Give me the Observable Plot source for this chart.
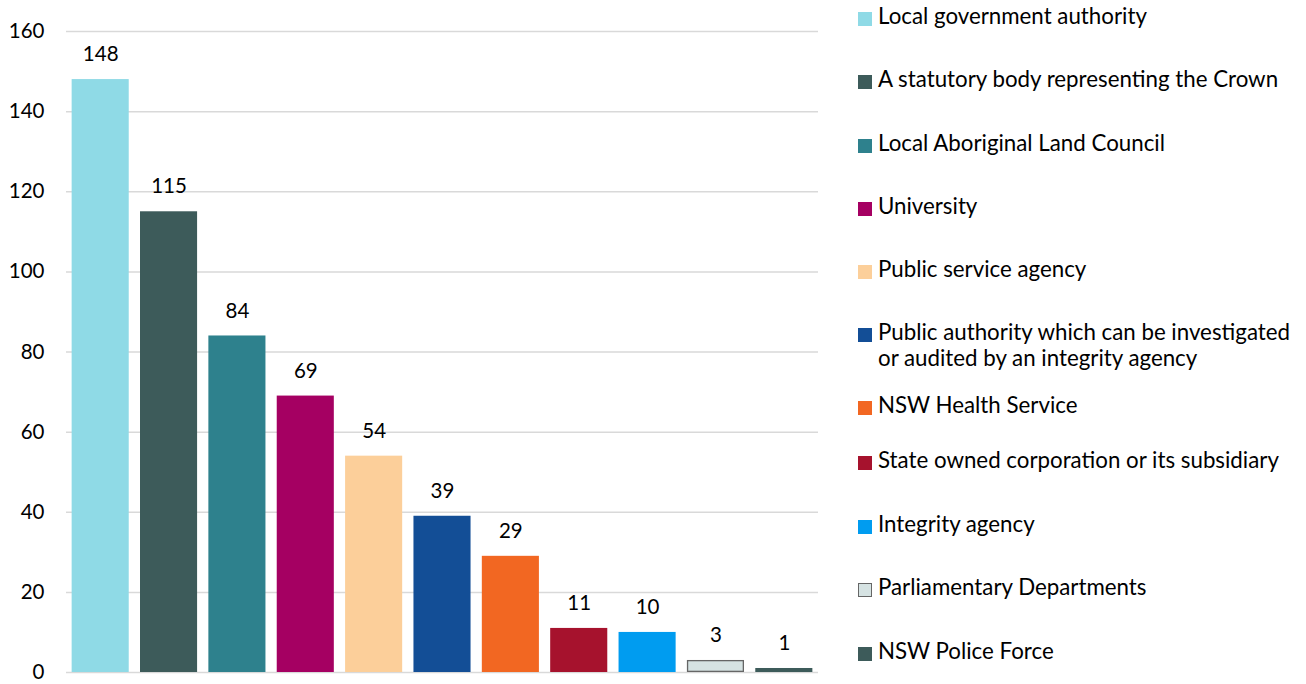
<!DOCTYPE html>
<html>
<head>
<meta charset="utf-8">
<script src="https://cdn.jsdelivr.net/npm/d3@7"></script>
<script src="https://cdn.jsdelivr.net/npm/@observablehq/plot@0.6"></script>
<style>
  html, body { margin: 0; padding: 0; background: #fff; }
  #wrap { position: relative; width: 1306px; height: 684px; font-family: Lato, "Noto Sans", sans-serif; }
  #chart { position: absolute; left: 0; top: 0; }
  #legend { position: absolute; left: 0; top: 0; width: 1306px; height: 684px; pointer-events: none; }
  .item { position: absolute; left: 878px; font-size: 22.3px; line-height: 26px; color: #000; white-space: nowrap; }
  .swatch { position: absolute; left: 858px; width: 14px; height: 14px; box-sizing: border-box; }
</style>
</head>
<body>
<div id="wrap">
  <div id="chart"></div>
  <div id="legend"></div>
</div>
<script>
// ---- data ----
const categories = [
  "Local government authority",
  "A statutory body representing the Crown",
  "Local Aboriginal Land Council",
  "University",
  "Public service agency",
  "Public authority which can be investigated or audited by an integrity agency",
  "NSW Health Service",
  "State owned corporation or its subsidiary",
  "Integrity agency",
  "Parliamentary Departments",
  "NSW Police Force"
];
const values = [148, 115, 84, 69, 54, 39, 29, 11, 10, 3, 1];
const colors = ["#8FDAE6", "#3D5B5A", "#2E818D", "#A50062", "#FCCF9A", "#134E96", "#F26722", "#A6122D", "#009CF0", "#D6E3E3", "#3D5B5A"];
const legendLines = [
  ["Local government authority"],
  ["A statutory body representing the Crown"],
  ["Local Aboriginal Land Council"],
  ["University"],
  ["Public service agency"],
  ["Public authority which can be investigated", "or audited by an integrity agency"],
  ["NSW Health Service"],
  ["State owned corporation or its subsidiary"],
  ["Integrity agency"],
  ["Parliamentary Departments"],
  ["NSW Police Force"]
];
const yTicks = [0, 20, 40, 60, 80, 100, 120, 140, 160];

// ---- layout ----
const legendBaselines = [24, 87, 151, 214, 277, 340, 413, 468, 532, 595, 659];
const outlinedCategory = "Parliamentary Departments";

const data = categories.map((c, i) => ({category: c, value: values[i]}));

const chart = Plot.plot({
  width: 830,
  height: 684,
  marginLeft: 66,
  marginRight: 12,
  marginTop: 31,
  marginBottom: 12,
  style: {fontFamily: "Lato, 'Noto Sans', sans-serif", color: "#000", background: "#fff"},
  x: {domain: categories, paddingInner: 0.165, paddingOuter: 0.0825, round: false, axis: null},
  y: {domain: [0, 160], axis: null},
  color: {domain: categories, range: colors},
  marks: [
    Plot.gridY(yTicks, {stroke: "#d9d9d9", strokeOpacity: 1, strokeWidth: 1.5}),
    Plot.axisY(yTicks, {tickSize: 0, tickPadding: 22, fontSize: 20.5, fill: "#000", label: null}),
    Plot.barY(data, {x: "category", y: "value", fill: "category"}),
    Plot.barY(data.filter(d => d.category === outlinedCategory), {x: "category", y: "value", fill: "none", stroke: "#666", strokeWidth: 1.3, inset: 0.65}),
    Plot.text(data, {x: "category", y: "value", text: d => String(d.value), dy: -25, fontSize: 20.5, fill: "#000"})
  ]
});
document.getElementById("chart").appendChild(chart);

const legend = document.getElementById("legend");
legendLines.forEach((lines, i) => {
  const base = legendBaselines[i];
  const sw = document.createElement("div");
  sw.className = "swatch";
  sw.style.top = (base - 12) + "px";
  sw.style.background = colors[i];
  if (categories[i] === outlinedCategory) sw.style.border = "1px solid #666";
  legend.appendChild(sw);
  const it = document.createElement("div");
  it.className = "item";
  it.style.top = (base - 20.6) + "px";
  it.innerHTML = lines.join("<br>");
  legend.appendChild(it);
});
</script>
</body>
</html>
